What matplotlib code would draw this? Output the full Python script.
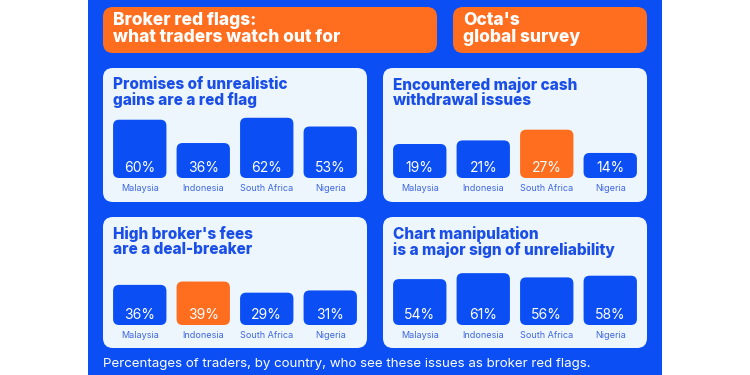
import matplotlib
matplotlib.use("Agg")
import matplotlib.pyplot as plt
from matplotlib.patches import FancyBboxPatch, Rectangle

# survey results, % of traders
countries = ['Malaysia', 'Indonesia', 'South Africa', 'Nigeria']
unrealistic_gains = [60, 36, 62, 53]
withdrawal_issues = [19, 21, 27, 14]
high_fees = [36, 39, 29, 31]
chart_manipulation = [54, 61, 56, 58]

panel_titles = ['Promises of unrealistic\ngains are a red flag',
                'Encountered major cash\nwithdrawal issues',
                "High broker's fees\nare a deal-breaker",
                'Chart manipulation\nis a major sign of unreliability']
highlight = [None, 2, 1, None]   # orange bar per panel

BLUE = '#0a4ef4'
ORANGE = '#ff6d1f'
PANEL = '#eef6fd'
TITLE_BLUE = '#1a4ee8'
LABEL_BLUE = '#3d66e4'
FONT = ['Inter', 'DejaVu Sans']

W, H = 750, 375
fig = plt.figure(figsize=(7.5, 3.75), dpi=100)

# background layer in pixel units
bg = fig.add_axes([0, 0, 1, 1])
bg.set_xlim(0, W)
bg.set_ylim(H, 0)
bg.axis('off')
bg.add_patch(Rectangle((88, 0), 574, 375, color=BLUE, lw=0))


def rbox(x0, y0, x1, y1, color, r=10):
    bg.add_patch(FancyBboxPatch((x0, y0), x1 - x0, y1 - y0,
                                boxstyle=f"round,pad=0,rounding_size={r}",
                                fc=color, ec='none'))


rbox(103, 7, 437, 53, ORANGE)
rbox(453, 7, 647, 53, ORANGE)
bg.text(113, 12, 'Broker red flags:\nwhat traders watch out for', color='white',
        fontsize=12.5, fontweight='heavy', family=FONT, va='top', linespacing=1.0)
bg.text(463, 12, "Octa's\nglobal survey", color='white',
        fontsize=12.5, fontweight='heavy', family=FONT, va='top', linespacing=1.0)

panels = [(103, 68, 367, 202), (383, 68, 647, 202),
          (103, 217, 367, 348), (383, 217, 647, 348)]
for (x0, y0, x1, y1), title in zip(panels, panel_titles):
    rbox(x0, y0, x1, y1, PANEL)
    bg.text(x0 + 10, y0 + 9, title, color=TITLE_BLUE, fontsize=11,
            fontweight='heavy', family=FONT, va='top', linespacing=1.0)

bg.text(103, 364, 'Percentages of traders, by country, who see these issues as broker red flags.',
        color='white', fontsize=9.6, family=FONT, va='center')

# bar charts
series = [unrealistic_gains, withdrawal_issues, high_fees, chart_manipulation]
ymax = [70, 38, 61, 80]
bar_boxes = [(108, 110, 362, 178), (388, 110, 642, 178),
             (108, 257, 362, 325), (388, 257, 642, 325)]

for vals, hi, top, (x0, y0, x1, y1) in zip(series, highlight, ymax, bar_boxes):
    ax = fig.add_axes([x0 / W, 1 - y1 / H, (x1 - x0) / W, (y1 - y0) / H])
    ax.patch.set_alpha(0)
    ax.set_xlim(-0.5, len(countries) - 0.5)
    ax.set_ylim(0, top)
    colors = [ORANGE if i == hi else BLUE for i in range(len(vals))]
    bars = ax.bar(range(len(vals)), vals, width=0.84, color=colors)
    px_x = (x1 - x0) / len(countries)
    px_y = (y1 - y0) / top
    r = 6 / px_x
    for b, c in zip(bars, colors):
        b.set_visible(False)
        ax.add_patch(FancyBboxPatch((b.get_x(), 0), b.get_width(), b.get_height(),
                                    boxstyle=f"round,pad=0,rounding_size={r}",
                                    mutation_aspect=(6 / px_y) / r,
                                    fc=c, ec='none', clip_on=False))
    for i, v in enumerate(vals):
        ax.annotate(f'{v}%', (i, 0), xytext=(0, 7.5), textcoords='offset points',
                    ha='center', va='center', color='white', fontsize=10, family=FONT)
    ax.set_xticks(range(len(countries)), countries, color=LABEL_BLUE,
                  fontsize=6.5, family=FONT)
    ax.tick_params(length=0, pad=4)
    ax.set_yticks([])
    for s in ax.spines.values():
        s.set_visible(False)

fig.savefig('out.png', dpi=100)
